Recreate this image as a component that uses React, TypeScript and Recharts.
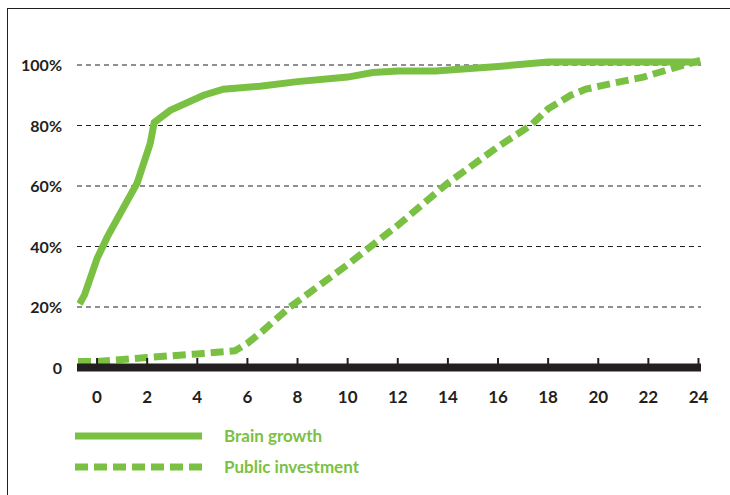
import React from 'react';
import { LineChart, Line, XAxis, YAxis, CartesianGrid, Legend } from 'recharts';

const brainAge = [-0.7, -0.5, 0, 0.4, 0.93, 1.6, 1.8, 2.12, 2.28, 2.92, 4.25, 5.04, 6.5, 8, 10, 11, 12, 13.5, 16, 18, 20, 22, 24.05];
const brainPct = [21, 24, 36, 43, 51, 61, 66, 74, 81, 85, 90, 92, 93, 94.5, 96, 97.5, 98, 98, 99.5, 101, 101, 101, 101];

const publicAge = [-0.76, 0, 2, 4, 5.5, 6, 6.6, 7.7, 10, 12, 14, 16, 17.3, 18, 18.9, 19.5, 20.6, 21.8, 23, 24.07];
const publicPct = [2, 2, 3.3, 4.5, 5.5, 8, 12, 20, 34, 47, 61, 73, 80, 85.5, 90, 92, 94, 96, 99, 101.5];

const xTicks = [0, 2, 4, 6, 8, 10, 12, 14, 16, 18, 20, 22, 24];
const yTicks = [0, 20, 40, 60, 80, 100];
const yTickLabels = ['0', '20%', '40%', '60%', '80%', '100%'];
const seriesNames = ['Brain growth', 'Public investment'];

const GREEN = '#7AC143';
const DARK = '#231F20';
const FONT = 'Lato, "Open Sans", sans-serif';

const brainData = brainAge.map((x, i) => ({ x, y: brainPct[i] }));
const publicData = publicAge.map((x, i) => ({ x, y: publicPct[i] }));

const XTick = (props: any) => {
  const { x, y, payload } = props;
  const axisY = y - 20;
  return (
    <g>
      <line x1={x} x2={x} y1={axisY - 9.5} y2={axisY} stroke={DARK} strokeWidth={2} />
      <text x={x} y={axisY + 35} textAnchor="middle" fill={DARK} fontFamily={FONT} fontWeight={700} fontSize={17}>
        {payload.value}
      </text>
    </g>
  );
};

const YTick = (props: any) => {
  const { x, y, payload } = props;
  const idx = yTicks.indexOf(payload.value);
  return (
    <text x={x} y={y + 6} textAnchor="end" fill={DARK} fontFamily={FONT} fontWeight={700} fontSize={16}>
      {yTickLabels[idx]}
    </text>
  );
};

const LegendContent = () => (
  <svg width={340} height={64} style={{ display: 'block' }}>
    <line x1={0} x2={127} y1={16} y2={16} stroke={GREEN} strokeWidth={7} />
    <text x={149} y={22} fill={GREEN} fontFamily={FONT} fontWeight={700} fontSize={17}>{seriesNames[0]}</text>
    <line x1={0} x2={127} y1={47} y2={47} stroke={GREEN} strokeWidth={7} strokeDasharray="13 6" />
    <text x={149} y={53} fill={GREEN} fontFamily={FONT} fontWeight={700} fontSize={17}>{seriesNames[1]}</text>
  </svg>
);

export default function App() {
  return (
    <div style={{ position: 'absolute', left: 0, top: 0, width: 730, height: 495, background: '#fff', overflow: 'hidden' }}>
      <div style={{ position: 'absolute', left: 7, top: 8, width: 730, height: 495, borderTop: `1.5px solid ${DARK}`, borderLeft: `1.5px solid ${DARK}` }} />
      <div style={{ position: 'absolute', left: 0, top: 0 }}>
        <LineChart width={730} height={495} margin={{ top: 34.75, right: 29, bottom: 97.5, left: 0 }}>
          <CartesianGrid horizontal vertical={false} horizontalValues={yTicks} stroke={DARK} strokeWidth={1} strokeDasharray="5 4" />
          <XAxis
            dataKey="x"
            type="number"
            domain={[-0.8, 24.1]}
            ticks={xTicks}
            allowDataOverflow
            height={30}
            tickSize={0}
            tickMargin={20}
            tickLine={false}
            axisLine={{ stroke: DARK, strokeWidth: 8 }}
            tick={<XTick />}
            interval={0}
          />
          <YAxis
            type="number"
            domain={[0, 110]}
            ticks={yTicks}
            allowDataOverflow
            width={77}
            tickSize={0}
            tickMargin={15}
            tickLine={false}
            axisLine={false}
            tick={<YTick />}
            interval={0}
          />
          <Line data={publicData} dataKey="y" name={seriesNames[1]} type="linear" stroke={GREEN} strokeWidth={7} strokeDasharray="13 6" dot={false} activeDot={false} isAnimationActive={false} />
          <Line data={brainData} dataKey="y" name={seriesNames[0]} type="linear" stroke={GREEN} strokeWidth={7} dot={false} activeDot={false} isAnimationActive={false} />
          <Legend
            layout="vertical"
            align="center"
            verticalAlign="middle"
            wrapperStyle={{ left: 75, top: 420, width: 340 }}
            content={() => <LegendContent />}
          />
        </LineChart>
      </div>
    </div>
  );
}
